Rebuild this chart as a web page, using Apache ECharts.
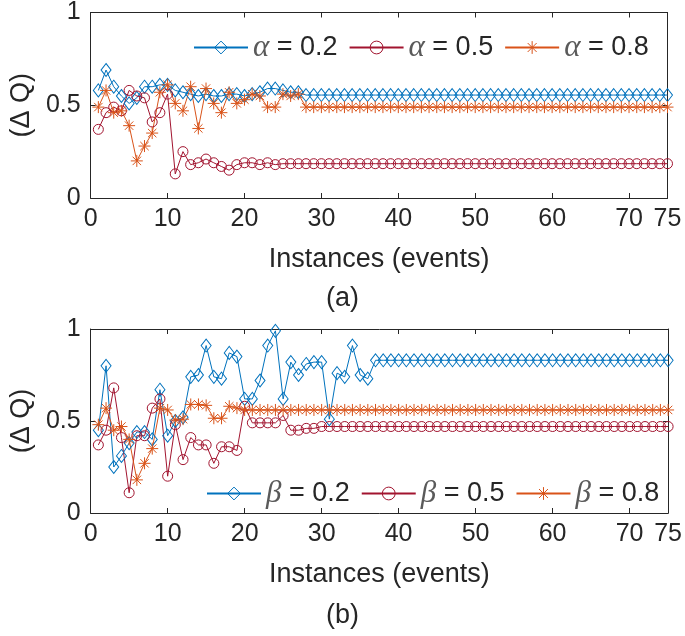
<!DOCTYPE html>
<html>
<head>
<meta charset="utf-8">
<script src="https://cdn.jsdelivr.net/npm/echarts@6/dist/echarts.min.js"></script>
<style>html,body{margin:0;padding:0;background:#fff;}#c{width:685px;height:636px;}</style>
</head>
<body>
<div id="c"></div>
<script>
// ---- Data ----
const xTicks = [0, 10, 20, 30, 40, 50, 60, 70, 75];
const yTicks = [0, 0.5, 1];
const namesA = ['α = 0.2', 'α = 0.5', 'α = 0.8'];
const namesB = ['β = 0.2', 'β = 0.5', 'β = 0.8'];

const alpha02 = [0.58,0.69,0.60,0.55,0.51,0.54,0.60,0.60,0.61,0.61,
  0.58,0.57,0.56,0.55,0.56,0.55,0.55,0.56,0.56,0.55,
  0.56,0.57,0.59,0.59,0.58,0.57,0.57,
  0.555,0.555,0.555,0.555,0.555,0.555,0.555,0.555,0.555,0.555,
  0.555,0.555,0.555,0.555,0.555,0.555,0.555,0.555,0.555,0.555,
  0.555,0.555,0.555,0.555,0.555,0.555,0.555,0.555,0.555,0.555,
  0.555,0.555,0.555,0.555,0.555,0.555,0.555,0.555,0.555,0.555,
  0.555,0.555,0.555,0.555,0.555,0.555,0.555,0.555];
const alpha05 = [0.37,0.46,0.49,0.47,0.58,0.55,0.54,0.41,0.46,0.56,
  0.13,0.25,0.18,0.19,0.21,0.19,0.17,0.15,0.18,0.19,
  0.19,0.18,0.19,0.18,
  0.185,0.185,0.185,0.185,0.185,0.185,0.185,0.185,0.185,0.185,
  0.185,0.185,0.185,0.185,0.185,0.185,0.185,0.185,0.185,0.185,
  0.185,0.185,0.185,0.185,0.185,0.185,0.185,0.185,0.185,0.185,
  0.185,0.185,0.185,0.185,0.185,0.185,0.185,0.185,0.185,0.185,
  0.185,0.185,0.185,0.185,0.185,0.185,0.185,0.185,0.185,0.185,
  0.185];
const alpha08 = [0.49,0.58,0.46,0.47,0.39,0.20,0.28,0.35,0.57,0.61,
  0.51,0.47,0.60,0.375,0.59,0.51,0.46,0.57,0.51,0.53,
  0.56,0.55,0.49,0.49,0.56,0.55,0.56,
  0.49,0.49,0.49,0.49,0.49,0.49,0.49,0.49,0.49,0.49,
  0.49,0.49,0.49,0.49,0.49,0.49,0.49,0.49,0.49,0.49,
  0.49,0.49,0.49,0.49,0.49,0.49,0.49,0.49,0.49,0.49,
  0.49,0.49,0.49,0.49,0.49,0.49,0.49,0.49,0.49,0.49,
  0.49,0.49,0.49,0.49,0.49,0.49,0.49,0.49];

const beta02 = [0.45,0.80,0.25,0.31,0.38,0.44,0.44,0.40,0.67,0.42,
  0.50,0.52,0.74,0.75,0.91,0.74,0.73,0.87,0.85,0.62,
  0.62,0.72,0.91,0.99,0.62,0.82,0.75,0.81,0.82,0.82,
  0.51,0.76,0.74,0.91,0.75,0.73,
  0.83,0.83,0.83,0.83,0.83,0.83,0.83,0.83,0.83,0.83,
  0.83,0.83,0.83,0.83,0.83,0.83,0.83,0.83,0.83,0.83,
  0.83,0.83,0.83,0.83,0.83,0.83,0.83,0.83,0.83,0.83,
  0.83,0.83,0.83,0.83,0.83,0.83,0.83,0.83,0.83];
const beta05 = [0.37,0.45,0.68,0.41,0.11,0.42,0.42,0.57,0.62,0.20,
  0.48,0.29,0.41,0.37,0.37,0.27,0.36,0.36,0.34,0.58,
  0.49,0.49,0.49,0.49,0.53,0.45,0.45,0.46,0.46,0.47,
  0.47,0.47,0.47,0.47,0.47,0.47,0.47,0.47,0.47,0.47,
  0.47,0.47,0.47,0.47,0.47,0.47,0.47,0.47,0.47,0.47,
  0.47,0.47,0.47,0.47,0.47,0.47,0.47,0.47,0.47,0.47,
  0.47,0.47,0.47,0.47,0.47,0.47,0.47,0.47,0.47,0.47,
  0.47,0.47,0.47,0.47,0.47];
const beta08 = [0.48,0.57,0.45,0.47,0.40,0.18,0.27,0.35,0.57,0.56,
  0.505,0.51,0.59,0.59,0.585,0.515,0.515,0.58,0.57,
  0.56,0.56,0.56,0.56,0.56,0.56,0.56,0.56,0.56,0.56,
  0.56,0.56,0.56,0.56,0.56,0.56,0.56,0.56,0.56,0.56,
  0.56,0.56,0.56,0.56,0.56,0.56,0.56,0.56,0.56,0.56,
  0.56,0.56,0.56,0.56,0.56,0.56,0.56,0.56,0.56,0.56,
  0.56,0.56,0.56,0.56,0.56,0.56,0.56,0.56,0.56,0.56,
  0.56,0.56,0.56,0.56,0.56,0.56];

// ---- Styling ----
const C_BLUE = '#0072BD', C_RED = '#A2142F', C_ORANGE = '#D95319';
const TXT = '#262626';
const FONT = '"Liberation Sans", Arial, sans-serif';
const STAR = 'path://M5 0L5 10M0 5L10 5M1.5 1.5L8.5 8.5M1.5 8.5L8.5 1.5';

function pairs(vals) { return vals.map((v, i) => [i + 1, v]); }

function mkSeries(name, vals, color, symbol, size, idx) {
  return {
    name: name, type: 'line', xAxisIndex: idx, yAxisIndex: idx,
    data: pairs(vals), color: color,
    symbol: symbol, symbolSize: size, showAllSymbol: true,
    lineStyle: { color: color, width: 1 },
    itemStyle: { color: 'rgba(0,0,0,0)', borderColor: color, borderWidth: 1 },
    emphasis: { disabled: true }, animation: false, z: 3
  };
}

function xAxes(gi) {
  return [{
    type: 'value', gridIndex: gi, min: 0, max: 75, position: 'bottom',
    axisLine: { show: true, onZero: false, lineStyle: { color: TXT, width: 1 } },
    axisTick: { show: true, inside: true, length: 5, customValues: xTicks, lineStyle: { color: TXT } },
    axisLabel: { customValues: xTicks, color: TXT, fontSize: 25, fontFamily: FONT, margin: 9 },
    splitLine: { show: false },
    name: 'Instances (events)', nameLocation: 'middle', nameGap: 48,
    nameTextStyle: { color: TXT, fontSize: 27, fontFamily: FONT }
  }, {
    type: 'value', gridIndex: gi, min: 0, max: 75, position: 'top',
    axisLine: { show: true, onZero: false, lineStyle: { color: TXT, width: 1 } },
    axisTick: { show: true, inside: true, length: 5, customValues: xTicks, lineStyle: { color: TXT } },
    axisLabel: { show: false }, splitLine: { show: false }
  }];
}
function yAxes(gi) {
  return [{
    type: 'value', gridIndex: gi, min: 0, max: 1, interval: 0.5, position: 'left',
    axisLine: { show: true, onZero: false, lineStyle: { color: TXT, width: 1 } },
    axisTick: { show: true, inside: true, length: 5, lineStyle: { color: TXT } },
    axisLabel: { color: TXT, fontSize: 25, fontFamily: FONT, margin: 10 },
    splitLine: { show: false },
    name: '(Δ Q)', nameLocation: 'middle', nameGap: 47, nameRotate: 90,
    nameTextStyle: { color: TXT, fontSize: 27, fontFamily: FONT }
  }, {
    type: 'value', gridIndex: gi, min: 0, max: 1, interval: 0.5, position: 'right',
    axisLine: { show: true, onZero: false, lineStyle: { color: TXT, width: 1 } },
    axisTick: { show: true, inside: true, length: 5, lineStyle: { color: TXT } },
    axisLabel: { show: false }, splitLine: { show: false }
  }];
}

const xa = xAxes(0), xb = xAxes(1), ya = yAxes(0), yb = yAxes(1);
const legendText = {
  color: TXT, fontSize: 27, fontFamily: FONT,
  rich: { g: { fontFamily: '"Liberation Serif", "DejaVu Serif", serif', fontStyle: 'italic', color: '#5a5a5a', fontSize: 31 } }
};
function fmt(n) { return '{g|' + n.charAt(0) + '}' + n.slice(1); }
const legendItemStyle = { color: 'rgba(0,0,0,0)', borderColor: 'inherit', borderWidth: 1 };

const option = {
  backgroundColor: '#fff',
  animation: false,
  grid: [
    { left: 81.5, right: 17.5, top: 12, height: 186 },
    { left: 83.3, right: 15, top: 329, height: 184 }
  ],
  xAxis: [xa[0], xb[0], xa[1], xb[1]],
  yAxis: [ya[0], yb[0], ya[1], yb[1]],
  title: [
    { text: '(a)', left: 'center', top: 280, textStyle: { color: TXT, fontSize: 27, fontWeight: 'normal', fontFamily: FONT } },
    { text: '(b)', left: 'center', top: 597, textStyle: { color: TXT, fontSize: 27, fontWeight: 'normal', fontFamily: FONT } }
  ],
  legend: [
    { data: namesA, left: 188, top: 27, itemWidth: 54, itemHeight: 16, itemGap: 11, selectedMode: false,
      itemStyle: legendItemStyle, formatter: fmt, textStyle: legendText },
    { data: namesB, left: 201, top: 473, itemWidth: 54, itemHeight: 16, itemGap: 11, selectedMode: false,
      itemStyle: legendItemStyle, formatter: fmt, textStyle: legendText }
  ],
  series: [
    mkSeries(namesA[0], alpha02, C_BLUE, 'diamond', [10, 13], 0),
    mkSeries(namesA[1], alpha05, C_RED, 'circle', 10, 0),
    mkSeries(namesA[2], alpha08, C_ORANGE, STAR, 12, 0),
    mkSeries(namesB[0], beta02, C_BLUE, 'diamond', [10, 13], 1),
    mkSeries(namesB[1], beta05, C_RED, 'circle', 10, 1),
    mkSeries(namesB[2], beta08, C_ORANGE, STAR, 12, 1)
  ]
};
const chart = echarts.init(document.getElementById('c'), null, { renderer: 'canvas' });
chart.setOption(option);
</script>
</body>
</html>
